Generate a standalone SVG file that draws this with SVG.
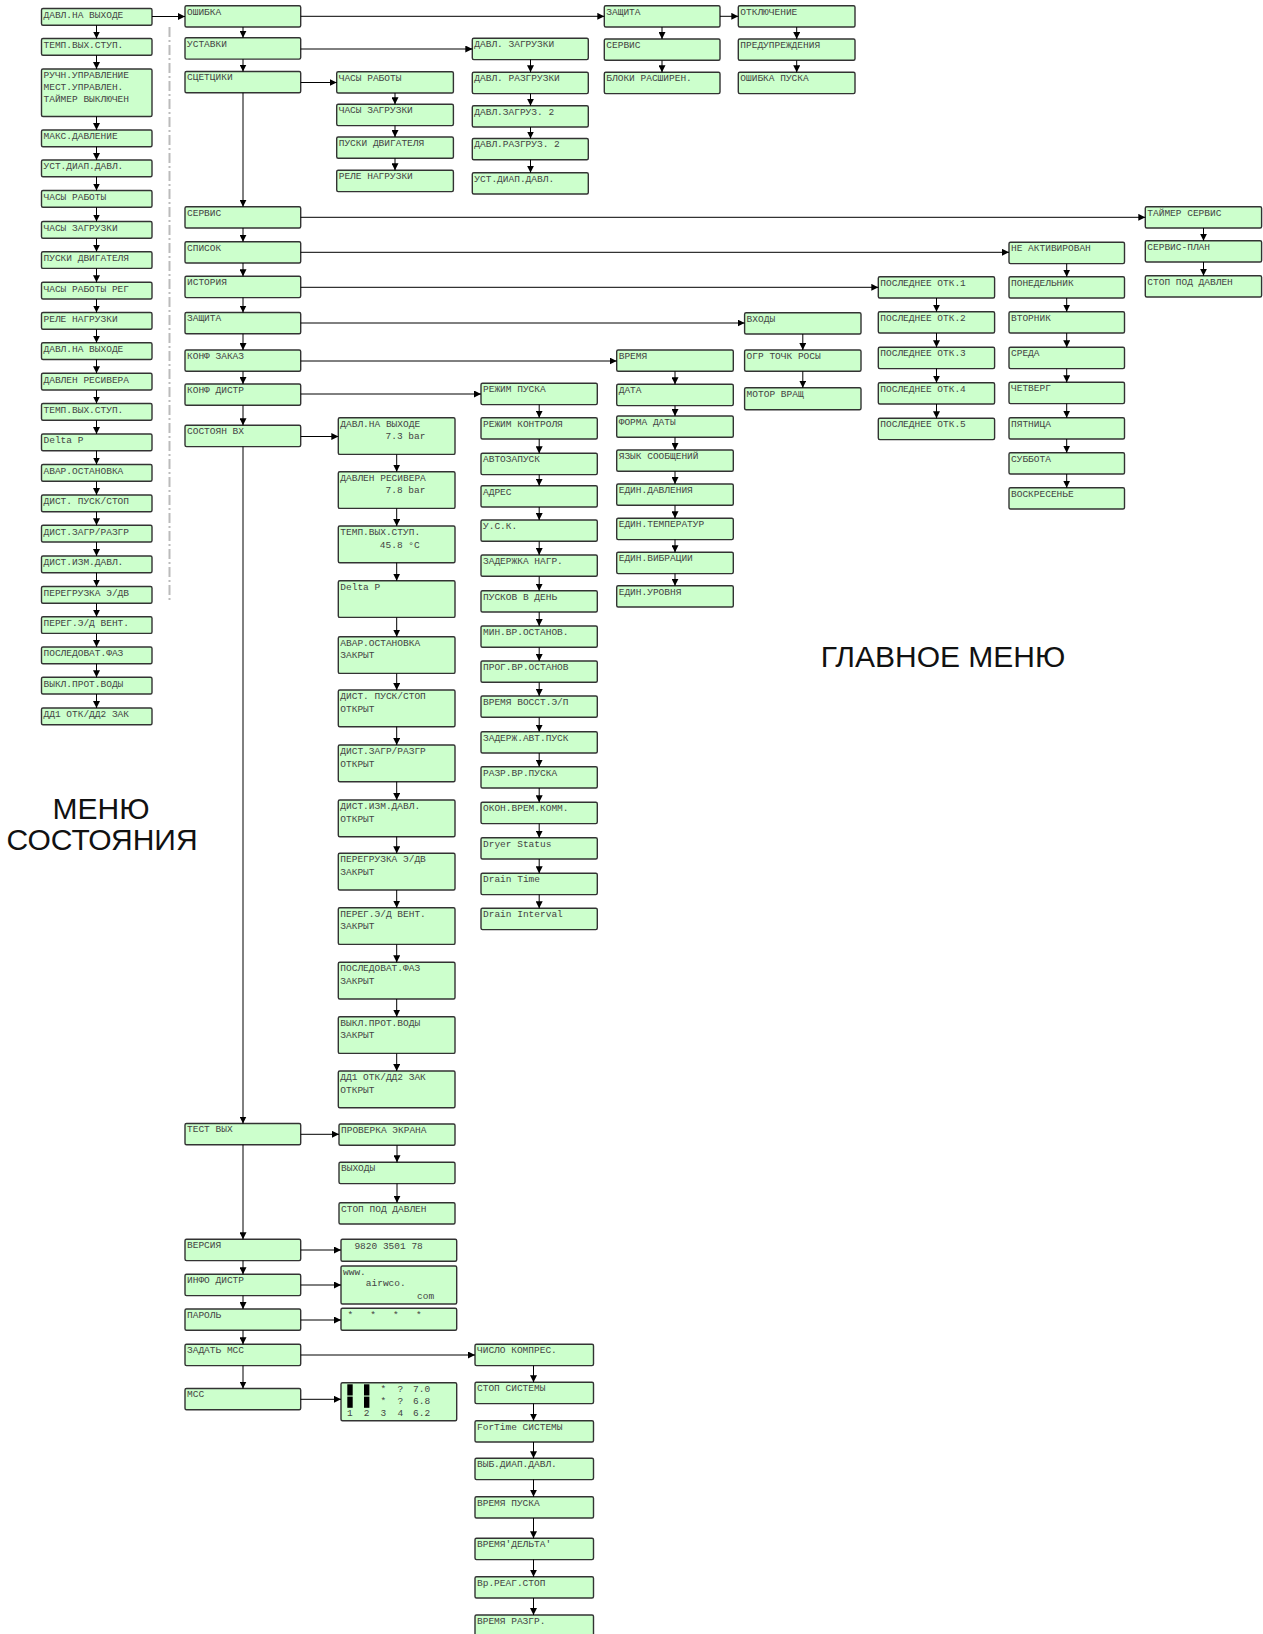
<svg xmlns="http://www.w3.org/2000/svg" width="1263" height="1634" viewBox="0 0 1263 1634">
<defs>
<marker id="ah" viewBox="0 0 10 10" refX="10" refY="5" markerWidth="7" markerHeight="7" markerUnits="userSpaceOnUse" orient="auto"><path d="M0,0 L10,5 L0,10 z" fill="#000"/></marker>
<style>
.b{fill:#ccffcc;stroke:#333;stroke-width:1.4}
.t{font-family:"Liberation Mono","DejaVu Sans Mono",monospace;font-size:9.5px;fill:#444}
.c path{stroke:#000;stroke-width:1;fill:none;marker-end:url(#ah)}
.big{font-family:"Liberation Sans",Arial,sans-serif;font-size:30px;fill:#111;text-anchor:middle}
.blk{fill:#000}
</style>
</defs>
<rect width="1263" height="1634" fill="#fff"/>
<line x1="169.5" y1="27" x2="169.5" y2="600" stroke="#bbb" stroke-width="2" stroke-dasharray="10 3 2 3"/>
<text class="big" x="943" y="667">ГЛАВНОЕ МЕНЮ</text>
<text class="big" x="101" y="819">МЕНЮ</text>
<text class="big" x="102" y="850">СОСТОЯНИЯ</text>

<g id="status-menu">
<g id="L1"><rect class="b" x="41.5" y="8.5" width="110.5" height="16.7" rx="1.5"/><text class="t" x="43.5" y="17.8">ДАВЛ.НА ВЫХОДЕ</text></g>
<g id="L2"><rect class="b" x="41.5" y="38.5" width="110.5" height="16.7" rx="1.5"/><text class="t" x="43.5" y="47.8">ТЕМП.ВЫХ.СТУП.</text></g>
<g id="L3"><rect class="b" x="41.5" y="69" width="110.5" height="47.5" rx="1.5"/><text class="t" x="43.5" y="78.3">РУЧН.УПРАВЛЕНИЕ</text><text class="t" x="43.5" y="90.3">МЕСТ.УПРАВЛЕН.</text><text class="t" x="43.5" y="102">ТАЙМЕР ВЫКЛЮЧЕН</text></g>
<g id="L4"><rect class="b" x="41.5" y="130" width="110.5" height="16.7" rx="1.5"/><text class="t" x="43.5" y="139.3">МАКС.ДАВЛЕНИЕ</text></g>
<g id="L5"><rect class="b" x="41.5" y="160" width="110.5" height="16.7" rx="1.5"/><text class="t" x="43.5" y="169.3">УСТ.ДИАП.ДАВЛ.</text></g>
<g id="L6"><rect class="b" x="41.5" y="190.5" width="110.5" height="16.7" rx="1.5"/><text class="t" x="43.5" y="199.8">ЧАСЫ РАБОТЫ</text></g>
<g id="L7"><rect class="b" x="41.5" y="221.5" width="110.5" height="16.7" rx="1.5"/><text class="t" x="43.5" y="230.8">ЧАСЫ ЗАГРУЗКИ</text></g>
<g id="L8"><rect class="b" x="41.5" y="251.7" width="110.5" height="16.7" rx="1.5"/><text class="t" x="43.5" y="261">ПУСКИ ДВИГАТЕЛЯ</text></g>
<g id="L9"><rect class="b" x="41.5" y="282.3" width="110.5" height="16.7" rx="1.5"/><text class="t" x="43.5" y="291.6">ЧАСЫ РАБОТЫ РЕГ</text></g>
<g id="L10"><rect class="b" x="41.5" y="312.5" width="110.5" height="16.7" rx="1.5"/><text class="t" x="43.5" y="321.8">РЕЛЕ НАГРУЗКИ</text></g>
<g id="L11"><rect class="b" x="41.5" y="342.8" width="110.5" height="16.7" rx="1.5"/><text class="t" x="43.5" y="352.1">ДАВЛ.НА ВЫХОДЕ</text></g>
<g id="L12"><rect class="b" x="41.5" y="373.3" width="110.5" height="16.7" rx="1.5"/><text class="t" x="43.5" y="382.6">ДАВЛЕН РЕСИВЕРА</text></g>
<g id="L13"><rect class="b" x="41.5" y="403.5" width="110.5" height="16.7" rx="1.5"/><text class="t" x="43.5" y="412.8">ТЕМП.ВЫХ.СТУП.</text></g>
<g id="L14"><rect class="b" x="41.5" y="434" width="110.5" height="16.7" rx="1.5"/><text class="t" x="43.5" y="443.3">Delta P</text></g>
<g id="L15"><rect class="b" x="41.5" y="464.5" width="110.5" height="16.7" rx="1.5"/><text class="t" x="43.5" y="473.8">АВАР.ОСТАНОВКА</text></g>
<g id="L16"><rect class="b" x="41.5" y="495" width="110.5" height="16.7" rx="1.5"/><text class="t" x="43.5" y="504.3">ДИСТ. ПУСК/СТОП</text></g>
<g id="L17"><rect class="b" x="41.5" y="525.3" width="110.5" height="16.7" rx="1.5"/><text class="t" x="43.5" y="534.6">ДИСТ.ЗАГР/РАЗГР</text></g>
<g id="L18"><rect class="b" x="41.5" y="556" width="110.5" height="16.7" rx="1.5"/><text class="t" x="43.5" y="565.3">ДИСТ.ИЗМ.ДАВЛ.</text></g>
<g id="L19"><rect class="b" x="41.5" y="586.5" width="110.5" height="16.7" rx="1.5"/><text class="t" x="43.5" y="595.8">ПЕРЕГРУЗКА Э/ДВ</text></g>
<g id="L20"><rect class="b" x="41.5" y="616.7" width="110.5" height="16.7" rx="1.5"/><text class="t" x="43.5" y="626">ПЕРЕГ.Э/Д ВЕНТ.</text></g>
<g id="L21"><rect class="b" x="41.5" y="647" width="110.5" height="16.7" rx="1.5"/><text class="t" x="43.5" y="656.3">ПОСЛЕДОВАТ.ФАЗ</text></g>
<g id="L22"><rect class="b" x="41.5" y="677.3" width="110.5" height="16.7" rx="1.5"/><text class="t" x="43.5" y="686.6">ВЫКЛ.ПРОТ.ВОДЫ</text></g>
<g id="L23"><rect class="b" x="41.5" y="708" width="110.5" height="16.7" rx="1.5"/><text class="t" x="43.5" y="717.3">ДД1 ОТК/ДД2 ЗАК</text></g>
</g>

<g id="main-menu">
<g id="M1"><rect class="b" x="185" y="5.7" width="115.7" height="21.3" rx="1.5"/><text class="t" x="187" y="14.5">ОШИБКА</text></g>
<g id="M2"><rect class="b" x="185" y="37.8" width="115.7" height="21.3" rx="1.5"/><text class="t" x="187" y="46.6">УСТАВКИ</text></g>
<g id="M3"><rect class="b" x="185" y="71.5" width="115.7" height="21.3" rx="1.5"/><text class="t" x="187" y="80.3">СЦЕТЦИКИ</text></g>
<g id="M4"><rect class="b" x="185" y="206.7" width="115.7" height="21.3" rx="1.5"/><text class="t" x="187" y="215.5">СЕРВИС</text></g>
<g id="M5"><rect class="b" x="185" y="241.7" width="115.7" height="21.3" rx="1.5"/><text class="t" x="187" y="250.5">СПИСОК</text></g>
<g id="M6"><rect class="b" x="185" y="276.3" width="115.7" height="21.3" rx="1.5"/><text class="t" x="187" y="285.1">ИСТОРИЯ</text></g>
<g id="M7"><rect class="b" x="185" y="312.5" width="115.7" height="21.3" rx="1.5"/><text class="t" x="187" y="321.3">ЗАЩИТА</text></g>
<g id="M8"><rect class="b" x="185" y="350" width="115.7" height="21.3" rx="1.5"/><text class="t" x="187" y="358.8">КОНФ ЗАКАЗ</text></g>
<g id="M9"><rect class="b" x="185" y="384" width="115.7" height="21.3" rx="1.5"/><text class="t" x="187" y="392.8">КОНФ ДИСТР</text></g>
<g id="M10"><rect class="b" x="185" y="425.3" width="115.7" height="21.3" rx="1.5"/><text class="t" x="187" y="434.1">СОСТОЯН ВХ</text></g>
<g id="M11"><rect class="b" x="185" y="1123.5" width="115.7" height="21.3" rx="1.5"/><text class="t" x="187" y="1132.3">ТЕСТ ВЫХ</text></g>
<g id="M12"><rect class="b" x="185" y="1239.3" width="115.7" height="21.3" rx="1.5"/><text class="t" x="187" y="1248.1">ВЕРСИЯ</text></g>
<g id="M13"><rect class="b" x="185" y="1274.3" width="115.7" height="21.3" rx="1.5"/><text class="t" x="187" y="1283.1">ИНФО ДИСТР</text></g>
<g id="M14"><rect class="b" x="185" y="1309" width="115.7" height="21.3" rx="1.5"/><text class="t" x="187" y="1317.8">ПАРОЛЬ</text></g>
<g id="M15"><rect class="b" x="185" y="1344.3" width="115.7" height="21.3" rx="1.5"/><text class="t" x="187" y="1353.1">ЗАДАТЬ МСС</text></g>
<g id="M16"><rect class="b" x="185" y="1388.5" width="115.7" height="21.3" rx="1.5"/><text class="t" x="187" y="1397.3">МСС</text></g>
</g>

<g id="error-sub">
<g id="E1"><rect class="b" x="604.3" y="5.7" width="115.7" height="21.3" rx="1.5"/><text class="t" x="606.3" y="14.5">ЗАЩИТА</text></g>
<g id="E2"><rect class="b" x="604.3" y="39" width="115.7" height="21.3" rx="1.5"/><text class="t" x="606.3" y="47.8">СЕРВИС</text></g>
<g id="E3"><rect class="b" x="604.3" y="72.3" width="115.7" height="21.3" rx="1.5"/><text class="t" x="606.3" y="81.1">БЛОКИ РАСШИРЕН.</text></g>
<g id="P1"><rect class="b" x="738.3" y="5.7" width="116.7" height="21.3" rx="1.5"/><text class="t" x="740.3" y="14.5">ОТКЛЮЧЕНИЕ</text></g>
<g id="P2"><rect class="b" x="738.3" y="39" width="116.7" height="21.3" rx="1.5"/><text class="t" x="740.3" y="47.8">ПРЕДУПРЕЖДЕНИЯ</text></g>
<g id="P3"><rect class="b" x="738.3" y="72.3" width="116.7" height="21.3" rx="1.5"/><text class="t" x="740.3" y="81.1">ОШИБКА ПУСКА</text></g>
</g>

<g id="setpoints-sub">
<g id="U1"><rect class="b" x="472.3" y="38.3" width="116" height="21.3" rx="1.5"/><text class="t" x="474.3" y="47.1">ДАВЛ. ЗАГРУЗКИ</text></g>
<g id="U2"><rect class="b" x="472.3" y="72.3" width="116" height="21.3" rx="1.5"/><text class="t" x="474.3" y="81.1">ДАВЛ. РАЗГРУЗКИ</text></g>
<g id="U3"><rect class="b" x="472.3" y="105.7" width="116" height="21.3" rx="1.5"/><text class="t" x="474.3" y="114.5">ДАВЛ.ЗАГРУЗ. 2</text></g>
<g id="U4"><rect class="b" x="472.3" y="138.5" width="116" height="21.3" rx="1.5"/><text class="t" x="474.3" y="147.3">ДАВЛ.РАЗГРУЗ. 2</text></g>
<g id="U5"><rect class="b" x="472.3" y="172.7" width="116" height="21.3" rx="1.5"/><text class="t" x="474.3" y="181.5">УСТ.ДИАП.ДАВЛ.</text></g>
</g>

<g id="counters-sub">
<g id="C1"><rect class="b" x="336.7" y="71.7" width="116.7" height="21.3" rx="1.5"/><text class="t" x="338.7" y="80.5">ЧАСЫ РАБОТЫ</text></g>
<g id="C2"><rect class="b" x="336.7" y="104.3" width="116.7" height="21.3" rx="1.5"/><text class="t" x="338.7" y="113.1">ЧАСЫ ЗАГРУЗКИ</text></g>
<g id="C3"><rect class="b" x="336.7" y="137" width="116.7" height="21.3" rx="1.5"/><text class="t" x="338.7" y="145.8">ПУСКИ ДВИГАТЕЛЯ</text></g>
<g id="C4"><rect class="b" x="336.7" y="170.3" width="116.7" height="21.3" rx="1.5"/><text class="t" x="338.7" y="179.1">РЕЛЕ НАГРУЗКИ</text></g>
</g>

<g id="service-sub">
<g id="S1"><rect class="b" x="1145.3" y="206.7" width="116.3" height="21.3" rx="1.5"/><text class="t" x="1147.3" y="215.5">ТАЙМЕР СЕРВИС</text></g>
<g id="S2"><rect class="b" x="1145.3" y="240.7" width="116.3" height="21.3" rx="1.5"/><text class="t" x="1147.3" y="249.5">СЕРВИС-ПЛАН</text></g>
<g id="S3"><rect class="b" x="1145.3" y="275.7" width="116.3" height="21.3" rx="1.5"/><text class="t" x="1147.3" y="284.5">СТОП ПОД ДАВЛЕН</text></g>
</g>

<g id="list-sub">
<g id="D0"><rect class="b" x="1009" y="242.3" width="115.5" height="21.3" rx="1.5"/><text class="t" x="1011" y="251.1">НЕ АКТИВИРОВАН</text></g>
<g id="D1"><rect class="b" x="1009" y="276.7" width="115.5" height="21.3" rx="1.5"/><text class="t" x="1011" y="285.5">ПОНЕДЕЛЬНИК</text></g>
<g id="D2"><rect class="b" x="1009" y="311.7" width="115.5" height="21.3" rx="1.5"/><text class="t" x="1011" y="320.5">ВТОРНИК</text></g>
<g id="D3"><rect class="b" x="1009" y="347.3" width="115.5" height="21.3" rx="1.5"/><text class="t" x="1011" y="356.1">СРЕДА</text></g>
<g id="D4"><rect class="b" x="1009" y="382.3" width="115.5" height="21.3" rx="1.5"/><text class="t" x="1011" y="391.1">ЧЕТВЕРГ</text></g>
<g id="D5"><rect class="b" x="1009" y="417.7" width="115.5" height="21.3" rx="1.5"/><text class="t" x="1011" y="426.5">ПЯТНИЦА</text></g>
<g id="D6"><rect class="b" x="1009" y="452.7" width="115.5" height="21.3" rx="1.5"/><text class="t" x="1011" y="461.5">СУББОТА</text></g>
<g id="D7"><rect class="b" x="1009" y="487.7" width="115.5" height="21.3" rx="1.5"/><text class="t" x="1011" y="496.5">ВОСКРЕСЕНЬЕ</text></g>
</g>

<g id="history-sub">
<g id="H1"><rect class="b" x="878.3" y="276.7" width="116.3" height="21.3" rx="1.5"/><text class="t" x="880.3" y="285.5">ПОСЛЕДНЕЕ ОТК.1</text></g>
<g id="H2"><rect class="b" x="878.3" y="311.7" width="116.3" height="21.3" rx="1.5"/><text class="t" x="880.3" y="320.5">ПОСЛЕДНЕЕ ОТК.2</text></g>
<g id="H3"><rect class="b" x="878.3" y="347.3" width="116.3" height="21.3" rx="1.5"/><text class="t" x="880.3" y="356.1">ПОСЛЕДНЕЕ ОТК.3</text></g>
<g id="H4"><rect class="b" x="878.3" y="382.7" width="116.3" height="21.3" rx="1.5"/><text class="t" x="880.3" y="391.5">ПОСЛЕДНЕЕ ОТК.4</text></g>
<g id="H5"><rect class="b" x="878.3" y="418.3" width="116.3" height="21.3" rx="1.5"/><text class="t" x="880.3" y="427.1">ПОСЛЕДНЕЕ ОТК.5</text></g>
</g>

<g id="protect-sub">
<g id="Z1"><rect class="b" x="744.6" y="312.7" width="116.4" height="21.3" rx="1.5"/><text class="t" x="746.6" y="321.5">ВХОДЫ</text></g>
<g id="Z2"><rect class="b" x="744.6" y="350" width="116.4" height="21.3" rx="1.5"/><text class="t" x="746.6" y="358.8">ОГР ТОЧК РОСЫ</text></g>
<g id="Z3"><rect class="b" x="744.6" y="387.7" width="116.4" height="22" rx="1.5"/><text class="t" x="746.6" y="396.5">МОТОР ВРАЩ</text></g>
</g>

<g id="order-sub">
<g id="K1"><rect class="b" x="616.7" y="350" width="116.6" height="21.3" rx="1.5"/><text class="t" x="618.7" y="358.8">ВРЕМЯ</text></g>
<g id="K2"><rect class="b" x="616.7" y="384.3" width="116.6" height="21.3" rx="1.5"/><text class="t" x="618.7" y="393.1">ДАТА</text></g>
<g id="K3"><rect class="b" x="616.7" y="416" width="116.6" height="21.3" rx="1.5"/><text class="t" x="618.7" y="424.8">ФОРМА ДАТЫ</text></g>
<g id="K4"><rect class="b" x="616.7" y="450" width="116.6" height="21.3" rx="1.5"/><text class="t" x="618.7" y="458.8">ЯЗЫК СООБЩЕНИЙ</text></g>
<g id="K5"><rect class="b" x="616.7" y="484" width="116.6" height="21.3" rx="1.5"/><text class="t" x="618.7" y="492.8">ЕДИН.ДАВЛЕНИЯ</text></g>
<g id="K6"><rect class="b" x="616.7" y="518.3" width="116.6" height="21.3" rx="1.5"/><text class="t" x="618.7" y="527.1">ЕДИН.ТЕМПЕРАТУР</text></g>
<g id="K7"><rect class="b" x="616.7" y="552.3" width="116.6" height="21.3" rx="1.5"/><text class="t" x="618.7" y="561.1">ЕДИН.ВИБРАЦИИ</text></g>
<g id="K8"><rect class="b" x="616.7" y="585.7" width="116.6" height="21.3" rx="1.5"/><text class="t" x="618.7" y="594.5">ЕДИН.УРОВНЯ</text></g>
</g>

<g id="dist-sub">
<g id="R1"><rect class="b" x="481" y="383.3" width="116.3" height="21.3" rx="1.5"/><text class="t" x="483" y="392.1">РЕЖИМ ПУСКА</text></g>
<g id="R2"><rect class="b" x="481" y="417.7" width="116.3" height="21.3" rx="1.5"/><text class="t" x="483" y="426.5">РЕЖИМ КОНТРОЛЯ</text></g>
<g id="R3"><rect class="b" x="481" y="453.3" width="116.3" height="21.3" rx="1.5"/><text class="t" x="483" y="462.1">АВТОЗАПУСК</text></g>
<g id="R4"><rect class="b" x="481" y="485.7" width="116.3" height="21.3" rx="1.5"/><text class="t" x="483" y="494.5">АДРЕС</text></g>
<g id="R5"><rect class="b" x="481" y="520" width="116.3" height="21.3" rx="1.5"/><text class="t" x="483" y="528.8">У.С.К.</text></g>
<g id="R6"><rect class="b" x="481" y="555" width="116.3" height="21.3" rx="1.5"/><text class="t" x="483" y="563.8">ЗАДЕРЖКА НАГР.</text></g>
<g id="R7"><rect class="b" x="481" y="590.7" width="116.3" height="21.3" rx="1.5"/><text class="t" x="483" y="599.5">ПУСКОВ В ДЕНЬ</text></g>
<g id="R8"><rect class="b" x="481" y="626" width="116.3" height="21.3" rx="1.5"/><text class="t" x="483" y="634.8">МИН.ВР.ОСТАНОВ.</text></g>
<g id="R9"><rect class="b" x="481" y="661" width="116.3" height="21.3" rx="1.5"/><text class="t" x="483" y="669.8">ПРОГ.ВР.ОСТАНОВ</text></g>
<g id="R10"><rect class="b" x="481" y="696" width="116.3" height="21.3" rx="1.5"/><text class="t" x="483" y="704.8">ВРЕМЯ ВОССТ.Э/П</text></g>
<g id="R11"><rect class="b" x="481" y="731.7" width="116.3" height="21.3" rx="1.5"/><text class="t" x="483" y="740.5">ЗАДЕРЖ.АВТ.ПУСК</text></g>
<g id="R12"><rect class="b" x="481" y="766.7" width="116.3" height="21.3" rx="1.5"/><text class="t" x="483" y="775.5">РАЗР.ВР.ПУСКА</text></g>
<g id="R13"><rect class="b" x="481" y="802.3" width="116.3" height="21.3" rx="1.5"/><text class="t" x="483" y="811.1">ОКОН.ВРЕМ.КОММ.</text></g>
<g id="R14"><rect class="b" x="481" y="837.7" width="116.3" height="21.3" rx="1.5"/><text class="t" x="483" y="846.5">Dryer Status</text></g>
<g id="R15"><rect class="b" x="481" y="873.3" width="116.3" height="21.3" rx="1.5"/><text class="t" x="483" y="882.1">Drain Time</text></g>
<g id="R16"><rect class="b" x="481" y="908.3" width="116.3" height="21.3" rx="1.5"/><text class="t" x="483" y="917.1">Drain Interval</text></g>
</g>

<g id="inputs-sub">
<g id="I1"><rect class="b" x="338.3" y="417.7" width="116.7" height="36.7" rx="1.5"/><text class="t" x="340.3" y="426.7">ДАВЛ.НА ВЫХОДЕ</text><text class="t" x="385.5" y="439.2">7.3 bar</text></g>
<g id="I2"><rect class="b" x="338.3" y="471.7" width="116.7" height="36.7" rx="1.5"/><text class="t" x="340.3" y="480.7">ДАВЛЕН РЕСИВЕРА</text><text class="t" x="385.5" y="493.2">7.8 bar</text></g>
<g id="I3"><rect class="b" x="338.3" y="526" width="116.7" height="36.7" rx="1.5"/><text class="t" x="340.3" y="535">ТЕМП.ВЫХ.СТУП.</text><text class="t" x="379.8" y="547.5">45.8 °C</text></g>
<g id="I4"><rect class="b" x="338.3" y="580.7" width="116.7" height="36.7" rx="1.5"/><text class="t" x="340.3" y="589.7">Delta P</text></g>
<g id="I5"><rect class="b" x="338.3" y="636.7" width="116.7" height="36.7" rx="1.5"/><text class="t" x="340.3" y="645.7">АВАР.ОСТАНОВКА</text><text class="t" x="340.3" y="658.2">ЗАКРЫТ</text></g>
<g id="I6"><rect class="b" x="338.3" y="690" width="116.7" height="36.7" rx="1.5"/><text class="t" x="340.3" y="699">ДИСТ. ПУСК/СТОП</text><text class="t" x="340.3" y="711.5">ОТКРЫТ</text></g>
<g id="I7"><rect class="b" x="338.3" y="745" width="116.7" height="36.7" rx="1.5"/><text class="t" x="340.3" y="754">ДИСТ.ЗАГР/РАЗГР</text><text class="t" x="340.3" y="766.5">ОТКРЫТ</text></g>
<g id="I8"><rect class="b" x="338.3" y="800" width="116.7" height="36.7" rx="1.5"/><text class="t" x="340.3" y="809">ДИСТ.ИЗМ.ДАВЛ.</text><text class="t" x="340.3" y="821.5">ОТКРЫТ</text></g>
<g id="I9"><rect class="b" x="338.3" y="853.3" width="116.7" height="36.7" rx="1.5"/><text class="t" x="340.3" y="862.3">ПЕРЕГРУЗКА Э/ДВ</text><text class="t" x="340.3" y="874.8">ЗАКРЫТ</text></g>
<g id="I10"><rect class="b" x="338.3" y="907.7" width="116.7" height="36.7" rx="1.5"/><text class="t" x="340.3" y="916.7">ПЕРЕГ.Э/Д ВЕНТ.</text><text class="t" x="340.3" y="929.2">ЗАКРЫТ</text></g>
<g id="I11"><rect class="b" x="338.3" y="962.3" width="116.7" height="36.7" rx="1.5"/><text class="t" x="340.3" y="971.3">ПОСЛЕДОВАТ.ФАЗ</text><text class="t" x="340.3" y="983.8">ЗАКРЫТ</text></g>
<g id="I12"><rect class="b" x="338.3" y="1016.7" width="116.7" height="36.7" rx="1.5"/><text class="t" x="340.3" y="1025.7">ВЫКЛ.ПРОТ.ВОДЫ</text><text class="t" x="340.3" y="1038.2">ЗАКРЫТ</text></g>
<g id="I13"><rect class="b" x="338.3" y="1071" width="116.7" height="36.7" rx="1.5"/><text class="t" x="340.3" y="1080">ДД1 ОТК/ДД2 ЗАК</text><text class="t" x="340.3" y="1092.5">ОТКРЫТ</text></g>
</g>

<g id="test-sub">
<g id="T1"><rect class="b" x="339" y="1124" width="116" height="21.3" rx="1.5"/><text class="t" x="341" y="1132.8">ПРОВЕРКА ЭКРАНА</text></g>
<g id="T2"><rect class="b" x="339" y="1162.3" width="116" height="21.3" rx="1.5"/><text class="t" x="341" y="1171.1">ВЫХОДЫ</text></g>
<g id="T3"><rect class="b" x="339" y="1202.7" width="116" height="21.3" rx="1.5"/><text class="t" x="341" y="1211.5">СТОП ПОД ДАВЛЕН</text></g>
</g>

<g id="V1"><rect class="b" x="341" y="1239.3" width="115.7" height="22" rx="1.5"/><text class="t" x="354.4" y="1249.3">9820 3501 78</text></g>
<g id="V2"><rect class="b" x="341" y="1266" width="115.7" height="38" rx="1.5"/><text class="t" x="343" y="1274.5">www.</text><text class="t" x="365.8" y="1286">airwco.</text><text class="t" x="417" y="1298.5">com</text></g>
<g id="V3"><rect class="b" x="341" y="1308.3" width="115.7" height="22" rx="1.5"/><text class="t" x="347.5" y="1318">*</text><text class="t" x="370.3" y="1318">*</text><text class="t" x="393.1" y="1318">*</text><text class="t" x="415.9" y="1318">*</text></g>
<g id="V4"><rect class="b" x="341" y="1382.7" width="115.7" height="38" rx="1.5"/>
<rect class="blk" x="347.3" y="1384.3" width="5.4" height="11.2"/><rect class="blk" x="347.3" y="1396.6" width="5.4" height="11.2"/>
<rect class="blk" x="364" y="1384.3" width="5.4" height="11.2"/><rect class="blk" x="364" y="1396.6" width="5.4" height="11.2"/>
<text class="t" x="380.5" y="1392">*</text><text class="t" x="397.5" y="1392">?</text><text class="t" x="413" y="1392">7.0</text>
<text class="t" x="380.5" y="1404.3">*</text><text class="t" x="397.5" y="1404.3">?</text><text class="t" x="413" y="1404.3">6.8</text>
<text class="t" x="347" y="1415.5">1</text><text class="t" x="363.8" y="1415.5">2</text><text class="t" x="380.5" y="1415.5">3</text><text class="t" x="397.5" y="1415.5">4</text><text class="t" x="413" y="1415.5">6.2</text>
</g>

<g id="mcc-sub">
<g id="N1"><rect class="b" x="475" y="1344.3" width="118.5" height="21.3" rx="1.5"/><text class="t" x="477" y="1353.1">ЧИСЛО КОМПРЕС.</text></g>
<g id="N2"><rect class="b" x="475" y="1382.3" width="118.5" height="21.3" rx="1.5"/><text class="t" x="477" y="1391.1">СТОП СИСТЕМЫ</text></g>
<g id="N3"><rect class="b" x="475" y="1420.7" width="118.5" height="21.3" rx="1.5"/><text class="t" x="477" y="1429.5">ForTime СИСТЕМЫ</text></g>
<g id="N4"><rect class="b" x="475" y="1458.3" width="118.5" height="21.3" rx="1.5"/><text class="t" x="477" y="1467.1">ВЫБ.ДИАП.ДАВЛ.</text></g>
<g id="N5"><rect class="b" x="475" y="1496.7" width="118.5" height="21.3" rx="1.5"/><text class="t" x="477" y="1505.5">ВРЕМЯ ПУСКА</text></g>
<g id="N6"><rect class="b" x="475" y="1538.3" width="118.5" height="21.3" rx="1.5"/><text class="t" x="477" y="1547.1">ВРЕМЯ'ДЕЛЬТА'</text></g>
<g id="N7"><rect class="b" x="475" y="1576.7" width="118.5" height="21.3" rx="1.5"/><text class="t" x="477" y="1585.5">Вр.РЕАГ.СТОП</text></g>
<g id="N8"><rect class="b" x="475" y="1615" width="118.5" height="21.3" rx="1.5"/><text class="t" x="477" y="1623.8">ВРЕМЯ РАЗГР.</text></g>
</g>

<g id="connectors" class="c">
<path d="M96.5 25.2V38.5"/><path d="M96.5 55.2V69"/><path d="M96.5 116.5V130"/><path d="M96.5 146.7V160"/><path d="M96.5 176.7V190.5"/><path d="M96.5 207.2V221.5"/><path d="M96.5 238.2V251.7"/><path d="M96.5 268.4V282.3"/><path d="M96.5 299V312.5"/><path d="M96.5 329.2V342.8"/><path d="M96.5 359.5V373.3"/><path d="M96.5 390V403.5"/><path d="M96.5 420.2V434"/><path d="M96.5 450.7V464.5"/><path d="M96.5 481.2V495"/><path d="M96.5 511.7V525.3"/><path d="M96.5 542V556"/><path d="M96.5 572.7V586.5"/><path d="M96.5 603.2V616.7"/><path d="M96.5 633.4V647"/><path d="M96.5 663.7V677.3"/><path d="M96.5 694V708"/>
<path d="M243 27V37.8"/><path d="M243 59.1V71.5"/><path d="M243 92.8V206.7"/><path d="M243 228V241.7"/><path d="M243 263V276.3"/><path d="M243 297.6V312.5"/><path d="M243 333.8V350"/><path d="M243 371.3V384"/><path d="M243 405.3V425.3"/><path d="M243 446.6V1123.5"/><path d="M243 1144.8V1239.3"/><path d="M243 1260.6V1274.3"/><path d="M243 1295.6V1309"/><path d="M243 1330.3V1344.3"/><path d="M243 1365.6V1388.5"/>
<path d="M152 16.5H185"/><path d="M300.7 16.3H604.3"/><path d="M720 16.3H738.3"/><path d="M300.7 49H472.3"/><path d="M300.7 82.5H336.7"/><path d="M300.7 217.3H1145.3"/><path d="M300.7 252.3H1009"/><path d="M300.7 287.3H878.3"/><path d="M300.7 323H744.6"/><path d="M300.7 361H616.7"/><path d="M300.7 394H481"/><path d="M300.7 436.5H338.3"/><path d="M300.7 1134.3H339"/><path d="M300.7 1250H341"/><path d="M300.7 1285H341"/><path d="M300.7 1320H341"/><path d="M300.7 1355H475"/><path d="M300.7 1399.3H341"/>
<path d="M662 27V39"/><path d="M662 60.3V72.3"/><path d="M796.7 27V39"/><path d="M796.7 60.3V72.3"/>
<path d="M530.5 59.6V72.3"/><path d="M530.5 93.6V105.7"/><path d="M530.5 127V138.5"/><path d="M530.5 159.8V172.7"/>
<path d="M395 93V104.3"/><path d="M395 125.6V137"/><path d="M395 158.3V170.3"/>
<path d="M1203.5 228V240.7"/><path d="M1203.5 262V275.7"/>
<path d="M1066.7 263.6V276.7"/><path d="M1066.7 298V311.7"/><path d="M1066.7 333V347.3"/><path d="M1066.7 368.6V382.3"/><path d="M1066.7 403.6V417.7"/><path d="M1066.7 439V452.7"/><path d="M1066.7 474V487.7"/>
<path d="M936.5 298V311.7"/><path d="M936.5 333V347.3"/><path d="M936.5 368.6V382.7"/><path d="M936.5 404V418.3"/>
<path d="M802.8 334V350"/><path d="M802.8 371.3V387.7"/>
<path d="M675 371.3V384.3"/><path d="M675 405.6V416"/><path d="M675 437.3V450"/><path d="M675 471.3V484"/><path d="M675 505.3V518.3"/><path d="M675 539.6V552.3"/><path d="M675 573.6V585.7"/>
<path d="M539.2 404.6V417.7"/><path d="M539.2 439V453.3"/><path d="M539.2 474.6V485.7"/><path d="M539.2 507V520"/><path d="M539.2 541.3V555"/><path d="M539.2 576.3V590.7"/><path d="M539.2 612V626"/><path d="M539.2 647.3V661"/><path d="M539.2 682.3V696"/><path d="M539.2 717.3V731.7"/><path d="M539.2 753V766.7"/><path d="M539.2 788V802.3"/><path d="M539.2 823.6V837.7"/><path d="M539.2 859V873.3"/><path d="M539.2 894.6V908.3"/>
<path d="M396.7 454.4V471.7"/><path d="M396.7 508.4V526"/><path d="M396.7 562.7V580.7"/><path d="M396.7 617.4V636.7"/><path d="M396.7 673.4V690"/><path d="M396.7 726.7V745"/><path d="M396.7 781.7V800"/><path d="M396.7 836.7V853.3"/><path d="M396.7 890V907.7"/><path d="M396.7 944.4V962.3"/><path d="M396.7 999V1016.7"/><path d="M396.7 1053.4V1071"/>
<path d="M397 1145.3V1162.3"/><path d="M397 1183.6V1202.7"/>
<path d="M533.5 1365.6V1382.3"/><path d="M533.5 1403.6V1420.7"/><path d="M533.5 1442V1458.3"/><path d="M533.5 1479.6V1496.7"/><path d="M533.5 1518V1538.3"/><path d="M533.5 1559.6V1576.7"/><path d="M533.5 1598V1615"/>
</g>
</svg>
